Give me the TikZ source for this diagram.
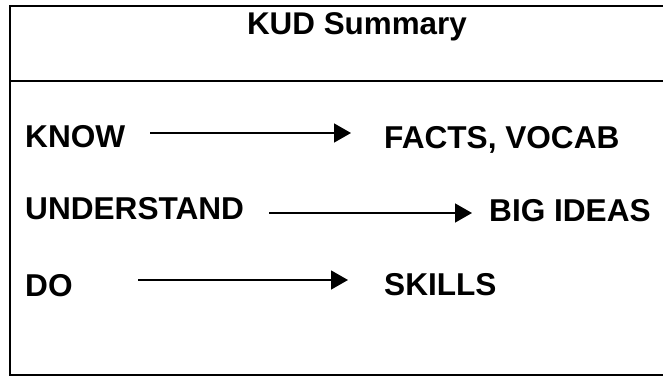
\documentclass[tikz,border=0pt]{standalone}
\usepackage{fontspec}
\setmainfont{Liberation Sans}
\usetikzlibrary{arrows.meta}
\tikzset{
  lbl/.style={inner sep=0pt, anchor=base west, font=\fontsize{31.6}{38}\selectfont\bfseries},
  ttl/.style={inner sep=0pt, anchor=base, font=\fontsize{31.4}{38}\selectfont\bfseries},
  frame/.style={line width=2.2pt},
  arr/.style={line width=1.4pt, -{Triangle[length=17pt,width=19pt]}}
}
\begin{document}
\begin{tikzpicture}[x=1pt,y=-1pt]
\useasboundingbox (0,0) rectangle (663,377);
\begin{scope}
\clip (0,0) rectangle (663,377);
\draw[frame] (10,6) rectangle (680,375);
\draw[frame] (10,81) -- (680,81);
\end{scope}
\node[ttl] (title) at (357,35) {KUD Summary};
\node[lbl] (know) at (25,147) {KNOW};
\node[lbl] (facts) at (384,148) {FACTS, VOCAB};
\node[lbl] (und) at (25,219) {UNDERSTAND};
\node[lbl] (big) at (489,221) {BIG IDEAS};
\node[lbl] (do) at (25,296) {DO};
\node[lbl] (skills) at (384,295) {SKILLS};
\coordinate (k1) at (150,133);
\coordinate (k2) at (351,133);
\coordinate (u1) at (269,213);
\coordinate (u2) at (472,213);
\coordinate (d1) at (138,280);
\coordinate (d2) at (348,280);
\draw[arr] (k1) -- (k2);
\draw[arr] (u1) -- (u2);
\draw[arr] (d1) -- (d2);
\end{tikzpicture}
\end{document}
